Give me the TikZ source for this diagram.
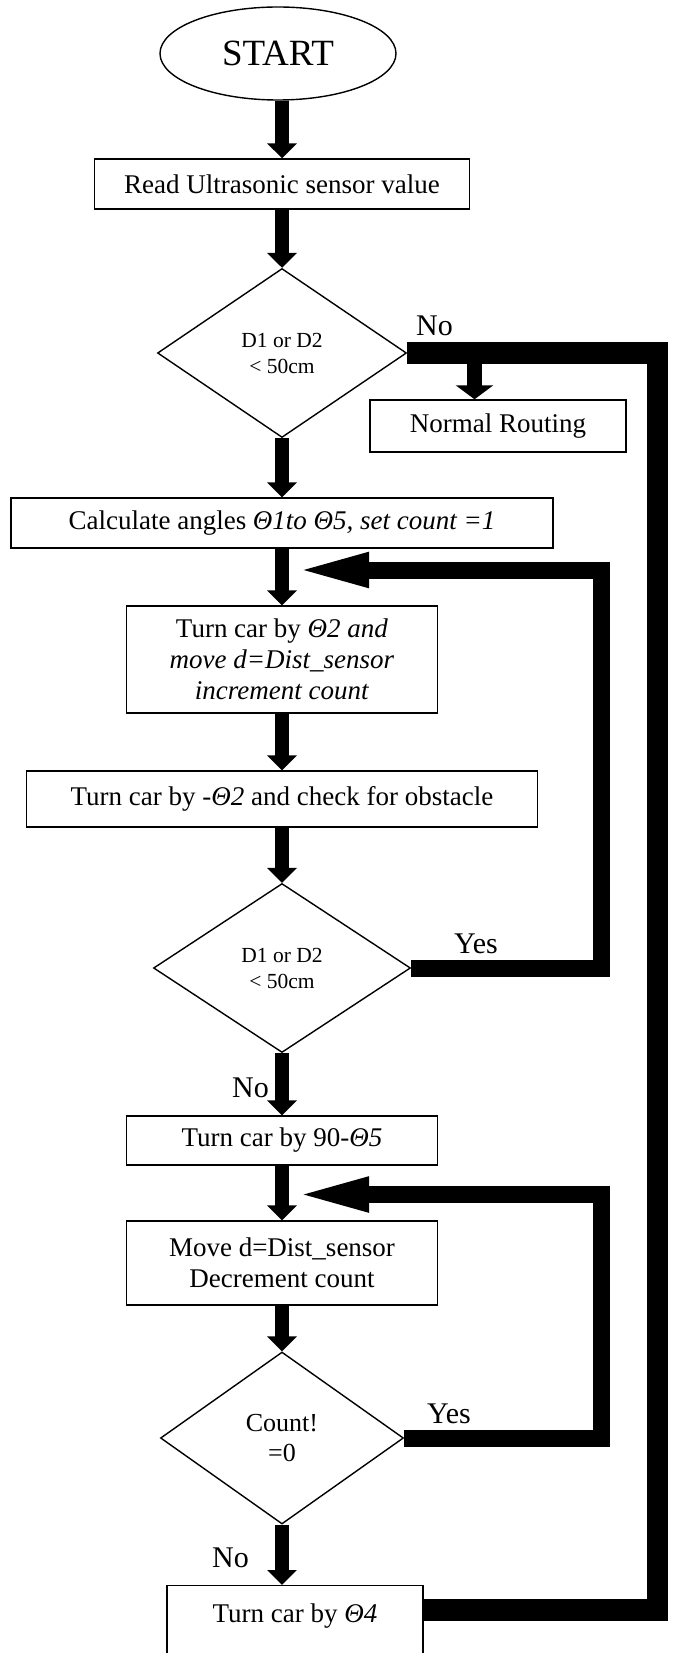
\documentclass[tikz,border=0pt]{standalone}
\usepackage{fontspec}
\setmainfont{Liberation Serif}
\usetikzlibrary{shapes.geometric,arrows.meta,calc}
\tikzstyle{block}=[draw,rectangle,line width=1.4pt,inner sep=0pt,align=center,font=\fontsize{27}{31}\selectfont]
\tikzstyle{decision}=[draw,diamond,line width=1.4pt,inner sep=0pt,align=center,font=\fontsize{21.5}{26}\selectfont]
\tikzstyle{flowarrow}=[line width=14pt,-{Triangle[length=15pt,width=29pt]}]
\tikzstyle{backflow}=[line width=17pt,line join=miter,-{Triangle[length=80pt,width=30pt]}]
\tikzstyle{answer}=[inner sep=0pt,anchor=base west,font=\fontsize{30}{34}\selectfont]
\begin{document}
\begin{tikzpicture}[x=1pt,y=-1pt]
\useasboundingbox (0,0) rectangle (675,1653);
\clip (0,0) rectangle (675,1653);

\node[draw,ellipse,line width=1.4pt,inner sep=0pt,minimum width=236pt,minimum height=93pt,font=\fontsize{37}{40}\selectfont] (start) at (278,53.5) {START};
\node[block,minimum width=375pt,minimum height=50pt] (read) at (282,184) {Read Ultrasonic sensor value};
\node[decision,minimum width=249pt,minimum height=169pt] (d1) at (282,353) {D1 or D2\\< 50cm};
\node[block,minimum width=256pt,minimum height=52pt] (route) at (498,426) {Normal Routing};
\node[block,minimum width=542pt,minimum height=50pt] (calc) at (282,523) {Calculate angles \textit{Θ1to Θ5, set count =1}};
\node[block,minimum width=311pt,minimum height=107pt] (turn2) at (282,659.5) {Turn car by \textit{Θ2 and}\\\textit{move d=Dist\_sensor}\\\textit{increment count}};
\node[block,minimum width=511pt,minimum height=56pt] (check) at (282,799) {Turn car by -\textit{Θ2} and check for obstacle};
\node[decision,minimum width=257pt,minimum height=169pt] (d2) at (282,968) {D1 or D2\\< 50cm};
\node[block,minimum width=311pt,minimum height=49pt] (turn5) at (282,1140.5) {Turn car by 90-\textit{Θ5}};
\node[block,minimum width=311pt,minimum height=84pt] (move) at (282,1263) {Move d=Dist\_sensor\\Decrement count};
\node[decision,minimum width=243pt,minimum height=172pt,font=\fontsize{26}{30}\selectfont] (d3) at (282,1438) {Count!\\=0};
\node[block,anchor=north,minimum width=256pt,text height=37pt,text depth=43pt] (turn4) at (295,1585) {Turn car by \textit{Θ4}};

\node[answer] (no1) at (416,335) {No};
\node[answer] (yes2) at (454,953) {Yes};
\node[answer] (no2) at (232,1097) {No};
\node[answer] (yes3) at (427,1423) {Yes};
\node[answer] (no3) at (212,1567) {No};

\coordinate (split) at (474.5,353);
\coordinate (outer) at (657.5,353);
\coordinate (inner1) at (601.5,570);
\coordinate (join1) at (289,570);
\coordinate (inner2) at (601.5,1194.5);
\coordinate (join2) at (289,1194.5);

\draw[flowarrow] (start.south -| read.north) -- (read.north);
\draw[flowarrow] (read.south) -- (d1.north);
\draw[flowarrow] (d1.south) -- (calc.north);
\draw[flowarrow] (calc.south) -- (turn2.north);
\draw[flowarrow] (turn2.south) -- (check.north);
\draw[flowarrow] (check.south) -- (d2.north);
\draw[flowarrow] (d2.south) -- (turn5.north);
\draw[flowarrow] (turn5.south) -- (move.north);
\draw[flowarrow] (move.south) -- (d3.north);
\draw[flowarrow] (d3.south) -- (d3.south |- turn4.north);

\draw[line width=21.5pt,line join=miter] (d1.east) -- (outer) |- ([yshift=15.5pt]turn4.east);
\draw[line width=15pt,-{Triangle[length=14pt,width=37pt]}] (split) -- (split |- route.north);

\draw[backflow] (d2.east) -| (inner1) -- (join1);
\draw[backflow] (d3.east) -| (inner2) -- (join2);
\end{tikzpicture}
\end{document}
